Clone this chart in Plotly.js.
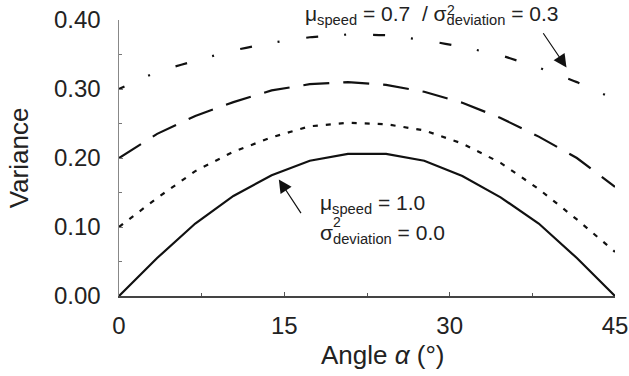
<!DOCTYPE html>
<html>
<head>
<meta charset="utf-8">
<script src="https://cdn.plot.ly/plotly-3.0.1.min.js"></script>
<style>
  html, body { margin: 0; padding: 0; background: #fff; }
  #graficoVarianza { width: 629px; height: 376px; }
</style>
</head>
<body>
<div id="graficoVarianza"></div>
<script>
// ---------------------------------------------------------------------
// DATOS: varianza frente al angulo alfa
// ---------------------------------------------------------------------
const angulos = [0, 3.46, 6.92, 10.38, 13.85, 17.31, 20.77, 24.23, 27.69, 31.15, 34.62, 38.08, 41.54, 45];

// mu_speed = 1.0 / sigma2 = 0.0 (linea continua)
const varSolida = [0, 0.055, 0.105, 0.145, 0.175, 0.196, 0.206, 0.206, 0.196, 0.174, 0.143, 0.105, 0.055, 0];
// curva punteada
const varPunteada = [0.100, 0.142, 0.181, 0.209, 0.230, 0.246, 0.251, 0.249, 0.240, 0.221, 0.193, 0.155, 0.111, 0.064];
// curva discontinua
const varDiscontinua = [0.200, 0.235, 0.261, 0.281, 0.298, 0.307, 0.310, 0.306, 0.296, 0.280, 0.258, 0.231, 0.200, 0.158];
// mu_speed = 0.7 / sigma2 = 0.3 (punto y raya)
const varPuntoRaya = [0.300, 0.325, 0.341, 0.356, 0.367, 0.375, 0.379, 0.378, 0.371, 0.361, 0.349, 0.331, 0.310, 0.285];

const ticksX = [0, 15, 30, 45];
const ticksY = [0, 0.1, 0.2, 0.3, 0.4];

// ---------------------------------------------------------------------
// TRAZAS
// ---------------------------------------------------------------------
const FUENTE = "Liberation Sans, Arial, sans-serif";
const COLOR_TEXTO = "#222";

function traza(y, dash) {
  return {
    x: angulos,
    y: y,
    type: "scatter",
    mode: "lines",
    line: { color: "#111", width: 2.2, dash: dash },
    hoverinfo: "skip",
  };
}

const trazas = [
  traza(varSolida, "solid"),
  traza(varPunteada, "5px,8px"),
  traza(varDiscontinua, "26px,14px"),
  traza(varPuntoRaya, "6px,26px,2px,27px,6px,0px"),
];

// ---------------------------------------------------------------------
// ANOTACIONES (textos y flechas)
// ---------------------------------------------------------------------
const fuenteNota = { family: FUENTE, size: 21, color: COLOR_TEXTO };
const fuenteExp = { family: FUENTE, size: 14, color: COLOR_TEXTO };

function nota(x, y, texto, fuente) {
  return {
    xref: "paper", yref: "paper", x: x, y: y, xanchor: "left", yanchor: "middle",
    text: texto, showarrow: false, font: fuente,
  };
}

function flecha(x, y, ax, ay) {
  return {
    x: x, y: y, ax: ax, ay: ay, axref: "x", ayref: "y",
    text: "", showarrow: true, arrowhead: 2, arrowsize: 2.2, arrowwidth: 1.2, arrowcolor: "#111",
  };
}

const anotaciones = [
  // texto superior (el exponente 2 va aparte, encima del subindice)
  nota(0.371, 1.018, "μ<sub>speed</sub> = 0.7&nbsp; / σ<sub>deviation</sub> = 0.3", fuenteNota),
  nota(0.657, 1.036, "2", fuenteExp),
  // texto inferior en dos lineas
  nota(0.401, 0.335, "μ<sub>speed</sub> = 1.0", fuenteNota),
  nota(0.401, 0.226, "σ<sub>deviation</sub> = 0.0", fuenteNota),
  nota(0.427, 0.268, "2", fuenteExp),
  flecha(40.6, 0.331, 38.4, 0.383),
  flecha(14.5, 0.169, 16.6, 0.118),
  // titulo del eje x (desplazado a la derecha como en la figura)
  {
    xref: "paper", yref: "paper", x: 0.533, y: -0.214, xanchor: "center", yanchor: "middle",
    text: "Angle <i>α</i> (°)", showarrow: false,
    font: { family: FUENTE, size: 26, color: COLOR_TEXTO },
  },
];

// ---------------------------------------------------------------------
// LAYOUT
// ---------------------------------------------------------------------
const layout = {
  width: 629,
  height: 376,
  margin: { l: 119, r: 14, t: 20, b: 80 },
  paper_bgcolor: "#fff",
  plot_bgcolor: "#fff",
  showlegend: false,
  font: { family: FUENTE, color: COLOR_TEXTO },
  xaxis: {
    range: [0, 45],
    tickvals: ticksX,
    ticktext: ticksX.map(String),
    ticks: "inside",
    ticklen: 4,
    tickcolor: "#555",
    minor: { dtick: 7.5, ticks: "inside", ticklen: 3, tickcolor: "#555" },
    showline: true,
    linecolor: "#444",
    linewidth: 1.5,
    showgrid: false,
    zeroline: false,
    tickfont: { family: FUENTE, size: 24, color: COLOR_TEXTO },
    ticklabelstandoff: 8,
  },
  yaxis: {
    range: [0, 0.4],
    tickvals: ticksY,
    ticktext: ticksY.map((v) => v.toFixed(2)),
    ticks: "inside",
    ticklen: 4,
    tickcolor: "#777",
    minor: { dtick: 0.05, ticks: "inside", ticklen: 3, tickcolor: "#777" },
    showline: true,
    linecolor: "#888",
    linewidth: 1.5,
    showgrid: false,
    zeroline: false,
    tickfont: { family: FUENTE, size: 24, color: COLOR_TEXTO },
    ticklabelstandoff: 12,
    title: { text: "Variance", font: { family: FUENTE, size: 26, color: COLOR_TEXTO }, standoff: 18 },
  },
  annotations: anotaciones,
};

Plotly.newPlot("graficoVarianza", trazas, layout, { staticPlot: true, displayModeBar: false });
</script>
</body>
</html>
